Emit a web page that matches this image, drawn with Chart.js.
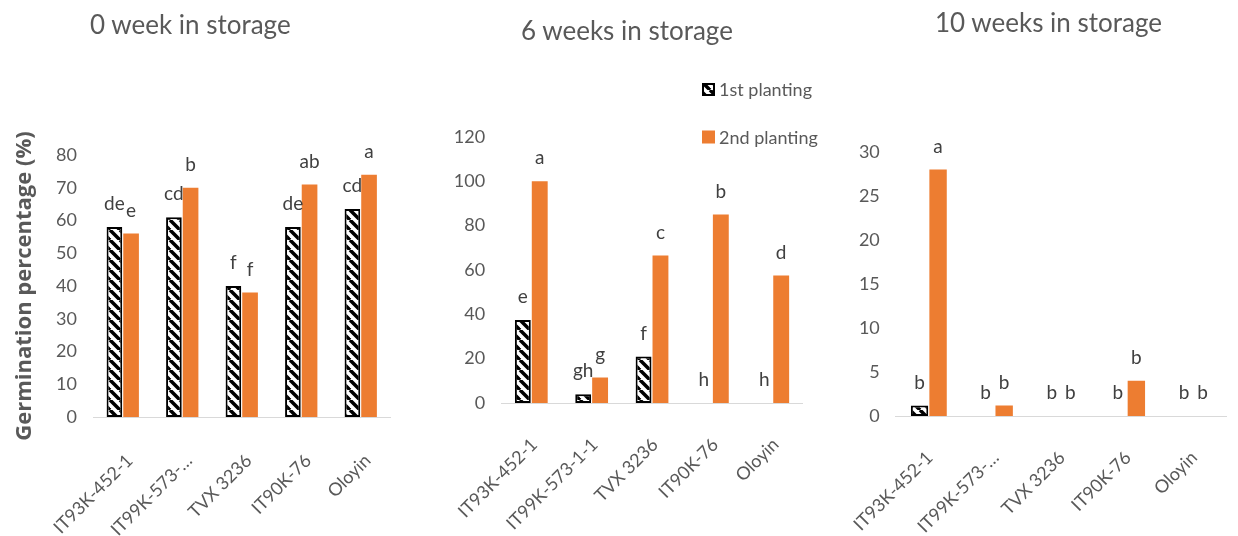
<!DOCTYPE html>
<html><head><meta charset="utf-8">
<script src="https://cdn.jsdelivr.net/npm/chart.js@4.4.1/dist/chart.umd.min.js"></script>
<style>
body{margin:0;background:#fff;}
#wrap{position:relative;width:1238px;height:536px;overflow:hidden;background:#fff;}
canvas{position:absolute;top:0;}
.t{position:absolute;font-family:Lato,sans-serif;font-size:26px;line-height:30px;color:#595959;white-space:nowrap;}
</style></head><body>
<div id="wrap">
<canvas id="c1" width="410" height="536" style="left:0px"></canvas>
<canvas id="c2" width="400" height="536" style="left:420px"></canvas>
<canvas id="c3" width="418" height="536" style="left:820px"></canvas>
<div class="t" style="left:90px;top:9px">0 week in storage</div>
<div class="t" style="left:521px;top:15px">6 weeks in storage</div>
<div class="t" style="left:935px;top:7px">10 weeks in storage</div>
</div>
<script>
// ---- data ----
const seriesNames = ["1st planting", "2nd planting"];
const categoriesShort = ["IT93K-452-1", "IT99K-573-…", "TVX 3236", "IT90K-76", "Oloyin"];
const categoriesFull = ["IT93K-452-1", "IT99K-573-1-1", "TVX 3236", "IT90K-76", "Oloyin"];

const week0First = [58, 61, 40, 58, 63.5];
const week0Second = [56, 70, 38, 71, 74];
const week0LettersFirst = ["de", "cd", "f", "de", "cd"];
const week0LettersSecond = ["e", "b", "f", "ab", "a"];

const week6First = [37.5, 4, 21, 0, 0];
const week6Second = [100, 11.5, 66.5, 85, 57.5];
const week6LettersFirst = ["e", "gh", "f", "h", "h"];
const week6LettersSecond = ["a", "g", "c", "b", "d"];

const week10First = [1.2, 0, 0, 0, 0];
const week10Second = [28, 1.2, 0, 4, 0];
const week10LettersFirst = ["b", "b", "b", "b", "b"];
const week10LettersSecond = ["a", "b", "b", "b", "b"];

const yTitle = "Germination percentage (%)";

// ---- styling helpers ----
function makeHatch(ctx){
  const c = document.createElement('canvas');
  c.width = 10; c.height = 10;
  const g = c.getContext('2d');
  g.fillStyle = '#fff'; g.fillRect(0,0,10,10);
  g.strokeStyle = '#000'; g.lineWidth = 3.5;
  for (const o of [-10, 0, 10]) {
    g.beginPath(); g.moveTo(o, 0); g.lineTo(o + 10, 10); g.stroke();
  }
  return ctx.createPattern(c, 'repeat');
}

const lettersPlugin = {
  id: 'letters',
  afterDatasetsDraw(chart, args, opts) {
    if (!opts || !opts.sets) return;
    const ctx = chart.ctx;
    ctx.save();
    ctx.font = '19px Lato, sans-serif';
    ctx.fillStyle = '#404040';
    ctx.textAlign = 'center';
    ctx.textBaseline = 'middle';
    opts.sets.forEach((arr, i) => {
      chart.getDatasetMeta(i).data.forEach((el, j) => {
        ctx.fillText(arr[j], el.x, el.y - opts.offset);
      });
    });
    ctx.restore();
  }
};

const boxLegendPlugin = {
  id: 'boxLegend',
  afterDraw(chart, args, opts) {
    if (!opts || !opts.show) return;
    const ctx = chart.ctx;
    ctx.save();
    ctx.font = '18px Lato, sans-serif';
    ctx.textBaseline = 'middle';
    chart.data.datasets.forEach((ds, i) => {
      const y = opts.y + i * opts.gap;
      const s = opts.size;
      ctx.fillStyle = ds.backgroundColor;
      ctx.fillRect(opts.x, y - s/2, s, s);
      if (ds.borderWidth) {
        ctx.strokeStyle = ds.borderColor; ctx.lineWidth = 2;
        ctx.strokeRect(opts.x + 1, y - s/2 + 1, s - 2, s - 2);
      }
      ctx.fillStyle = '#595959';
      ctx.fillText(ds.label, opts.x + s + 4, y + 1);
    });
    ctx.restore();
  }
};

function makeChart(id, labels, first, second, lFirst, lSecond, yMax, yStep, geom) {
  const canvas = document.getElementById(id);
  const ctx = canvas.getContext('2d');
  const hatch = makeHatch(ctx);
  return new Chart(ctx, {
    type: 'bar',
    data: {
      labels: labels,
      datasets: [
        { label: seriesNames[0], data: first, backgroundColor: hatch, borderColor: '#000',
          borderWidth: 2, borderSkipped: false, barPercentage: 0.94, categoryPercentage: 0.56 },
        { label: seriesNames[1], data: second, backgroundColor: '#ED7D31', borderWidth: 0,
          barPercentage: 0.94, categoryPercentage: 0.56 }
      ]
    },
    options: {
      responsive: false, animation: false,
      layout: { padding: { top: geom.top, right: geom.right, left: 0, bottom: 0 } },
      plugins: {
        legend: { display: false }, tooltip: { enabled: false }, title: { display: false },
        letters: { sets: [lFirst, lSecond], offset: 23 },
        boxLegend: geom.legend || { show: false }
      },
      scales: {
        x: {
          grid: { display: false, drawTicks: false },
          border: { display: true, color: '#d9d9d9', width: 1 },
          ticks: { color: '#595959', font: { family: 'Lato', size: 18 }, minRotation: 45, maxRotation: 45,
                   padding: geom.xPad, labelOffset: geom.xOff, autoSkip: false },
          afterFit(s) { s.height = geom.xHeight; }
        },
        y: {
          min: 0, max: yMax,
          grid: { display: false, drawTicks: false },
          border: { display: false },
          ticks: { stepSize: yStep, color: '#595959', font: { family: 'Lato', size: 18 }, padding: 16 },
          title: geom.yTitle ? { display: true, text: yTitle, color: '#595959',
                   font: { family: 'Open Sans', size: 22, weight: 'bold' }, padding: { top: 12, bottom: 0 } }
                 : { display: false },
          afterFit(s) { s.width = geom.yWidth; }
        }
      }
    },
    plugins: [lettersPlugin, boxLegendPlugin]
  });
}

makeChart('c1', categoriesShort, week0First, week0Second, week0LettersFirst, week0LettersSecond, 80, 10,
  { top: 155, right: 10, yWidth: 93, xHeight: 119, xPad: 33, xOff: 7, yTitle: true });
makeChart('c2', categoriesFull, week6First, week6Second, week6LettersFirst, week6LettersSecond, 120, 20,
  { top: 137, right: 15, yWidth: 76, xHeight: 133, xPad: 31, xOff: 3,
    legend: { show: true, x: 282, y: 89.5, gap: 47.5, size: 13 } });
makeChart('c3', categoriesShort, week10First, week10Second, week10LettersFirst, week10LettersSecond, 30, 5,
  { top: 152, right: 6, yWidth: 55, xHeight: 120, xPad: 31, xOff: 1 });
</script>
</body></html>
